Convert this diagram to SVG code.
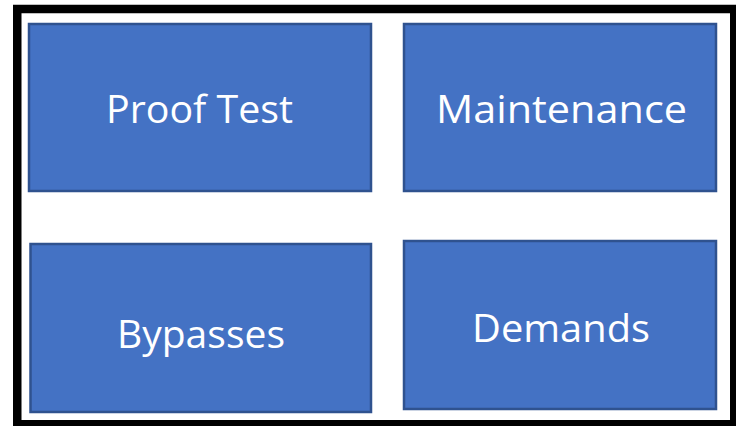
<svg xmlns="http://www.w3.org/2000/svg" width="736" height="426" viewBox="0 0 736 426">
<style>
.box{fill:#4472C4;stroke:#2F528F;stroke-width:2.5}
.lbl{fill:#FFFFFF;font-family:"Open Sans","Liberation Sans",sans-serif;font-size:39px;text-anchor:middle}
</style>
<rect x="0" y="0" width="736" height="426" fill="#FFFFFF"/>
<rect id="frame" x="17.25" y="9" width="717" height="415.25" fill="none" stroke="#000000" stroke-width="8.5"/>
<g id="proof-test">
<rect class="box" x="29" y="24" width="342" height="167"/>
<text class="lbl" x="199.5" y="123" textLength="187" lengthAdjust="spacingAndGlyphs">Proof Test</text>
</g>
<g id="maintenance">
<rect class="box" x="404" y="24" width="312" height="167"/>
<text class="lbl" x="561.5" y="123" textLength="251" lengthAdjust="spacingAndGlyphs">Maintenance</text>
</g>
<g id="bypasses">
<rect class="box" x="30.5" y="244" width="340.5" height="168"/>
<text class="lbl" x="201" y="348" textLength="168" lengthAdjust="spacingAndGlyphs">Bypasses</text>
</g>
<g id="demands">
<rect class="box" x="404" y="241" width="312" height="168"/>
<text class="lbl" x="561" y="342" textLength="178" lengthAdjust="spacingAndGlyphs">Demands</text>
</g>
<g id="connectors"></g>
</svg>
